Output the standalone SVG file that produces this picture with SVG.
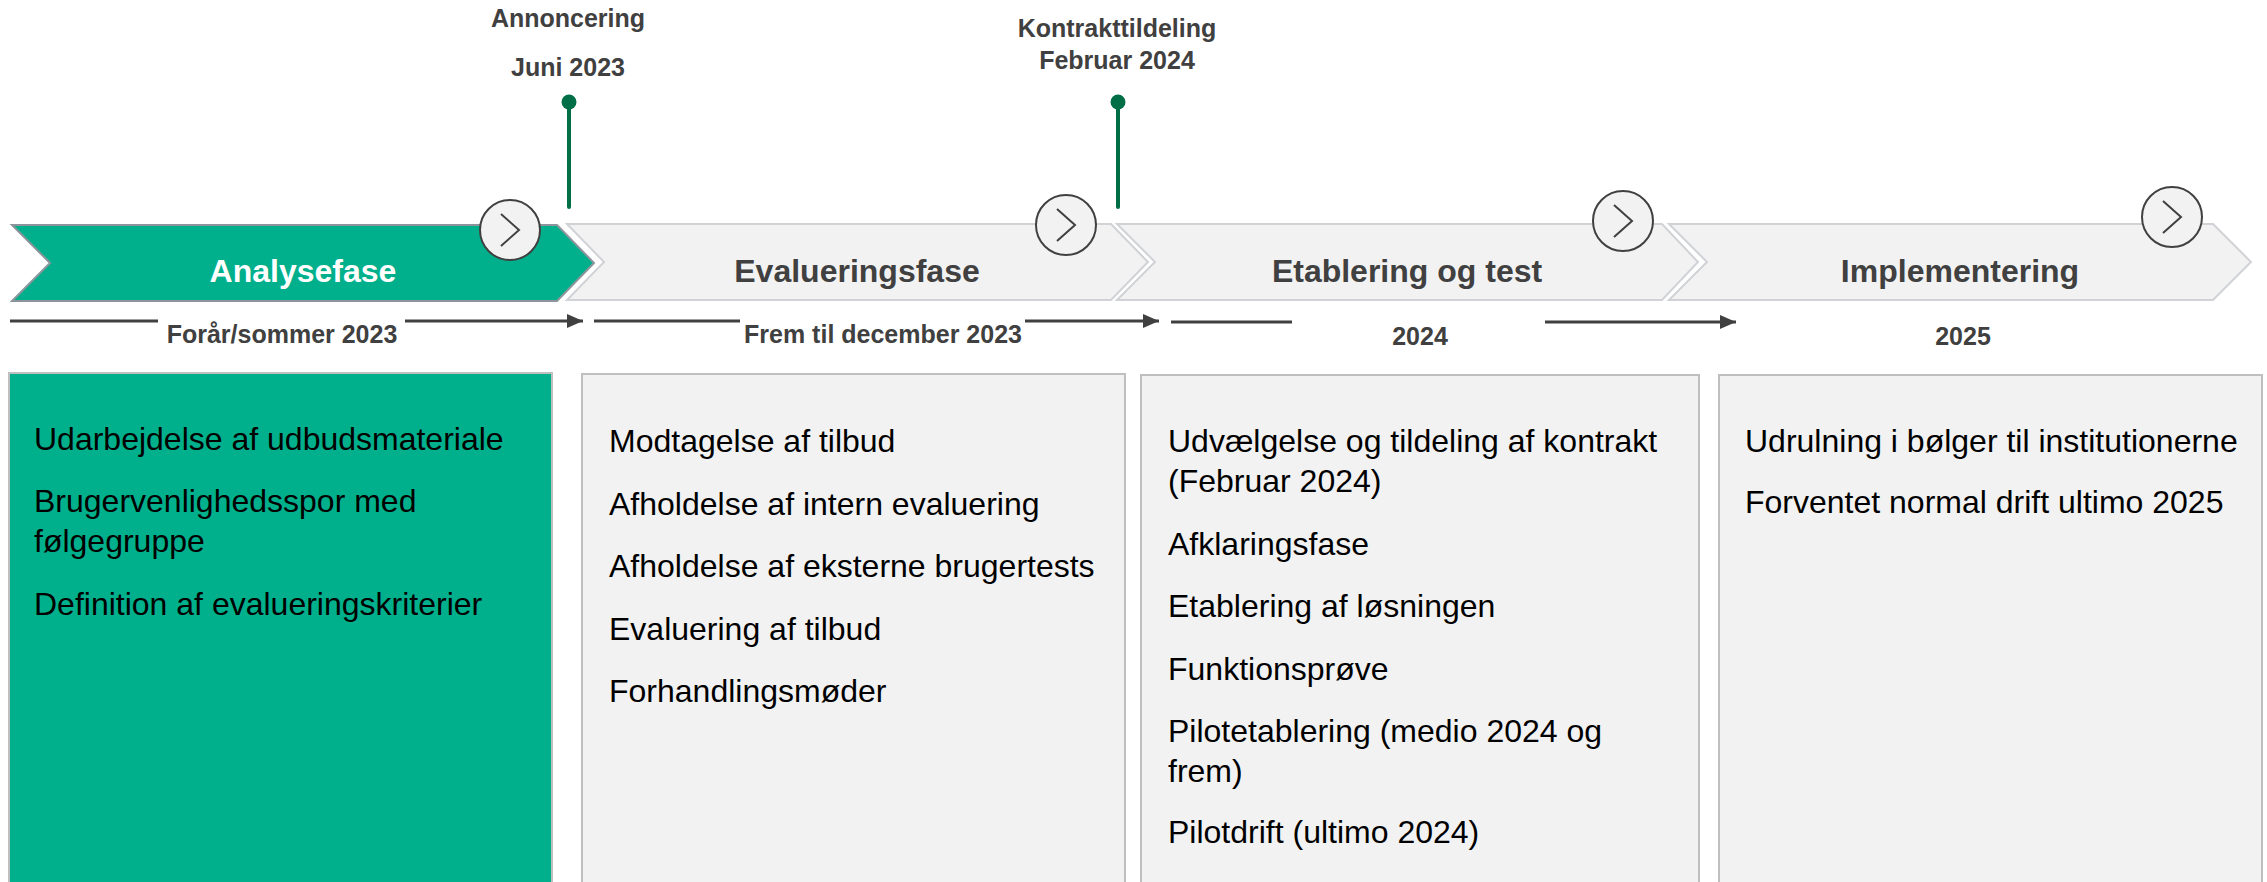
<svg xmlns="http://www.w3.org/2000/svg" width="2267" height="882" viewBox="0 0 2267 882">
  <defs>
    <style>
      .lbl { font-family: "Liberation Sans", Arial, sans-serif; font-weight: bold; fill: #404040; }
      .ms { font-size: 25px; text-anchor: middle; }
      .phase { font-size: 32px; text-anchor: middle; }
      .item { font-family: "Liberation Sans", Arial, sans-serif; font-size: 32px; fill: #000; }
      .chev-gray { fill: #F2F2F2; stroke: #D0D2D6; stroke-width: 2; }
      .chev-green { fill: #00B08C; stroke: #8E949C; stroke-width: 2; }
      .box-gray { fill: #F2F2F2; stroke: #BFBFBF; stroke-width: 2; }
      .box-green { fill: #00B08C; stroke: #BFBFBF; stroke-width: 2; }
      .btn { fill: #F2F2F2; stroke: #404040; stroke-width: 2; }
      .btn-arrow { fill: none; stroke: #404040; stroke-width: 2; }
      .pin { stroke: #006E46; stroke-width: 4; stroke-linecap: round; }
      .span { stroke: #404040; stroke-width: 3; fill: none; }
    </style>
    <marker id="head" viewBox="0 0 16 14" refX="16" refY="7" markerWidth="16" markerHeight="14" markerUnits="userSpaceOnUse" orient="auto">
      <path d="M0,0 L16,7 L0,14 Z" fill="#404040"/>
    </marker>
  </defs>

  <rect width="2267" height="882" fill="#FFFFFF"/>

  <!-- milestones -->
  <g id="milestone-annoncering">
    <text class="lbl ms" x="568" y="27">Annoncering</text>
    <text class="lbl ms" x="568" y="76">Juni 2023</text>
    <line class="pin" x1="569" y1="102" x2="569" y2="207"/>
    <circle cx="569" cy="102" r="7.5" fill="#006E46"/>
  </g>
  <g id="milestone-kontrakt">
    <text class="lbl ms" x="1117" y="37">Kontrakttildeling</text>
    <text class="lbl ms" x="1117" y="69">Februar 2024</text>
    <line class="pin" x1="1118" y1="102" x2="1118" y2="207"/>
    <circle cx="1118" cy="102" r="7.5" fill="#006E46"/>
  </g>

  <!-- phase chevrons -->
  <g id="phase-analyse">
    <path class="chev-green" d="M12,225 L557,225 L594,263 L557,301 L12,301 L50,263 Z"/>
    <text class="phase" x="303" y="282" font-family="Liberation Sans, Arial, sans-serif" font-weight="bold" fill="#FFFFFF">Analysefase</text>
    <circle class="btn" cx="510" cy="230" r="30"/>
    <path class="btn-arrow" d="M501,214 L519,230 L501,246"/>
  </g>
  <g id="phase-evaluering">
    <path class="chev-gray" d="M567,224 L1111,224 L1148,262 L1111,300 L567,300 L604,262 Z"/>
    <text class="lbl phase" x="857" y="282">Evalueringsfase</text>
    <circle class="btn" cx="1066" cy="225" r="30"/>
    <path class="btn-arrow" d="M1057,209 L1075,225 L1057,241"/>
  </g>
  <g id="phase-etablering">
    <path class="chev-gray" d="M1117,224 L1662,224 L1698,262 L1662,300 L1117,300 L1155,262 Z"/>
    <text class="lbl phase" x="1407" y="282">Etablering og test</text>
    <circle class="btn" cx="1623" cy="221" r="30"/>
    <path class="btn-arrow" d="M1614,205 L1632,221 L1614,237"/>
  </g>
  <g id="phase-implementering">
    <path class="chev-gray" d="M1669,224 L2213,224 L2251,262 L2213,300 L1669,300 L1707,262 Z"/>
    <text class="lbl phase" x="1960" y="282">Implementering</text>
    <circle class="btn" cx="2172" cy="217" r="30"/>
    <path class="btn-arrow" d="M2163,201 L2181,217 L2163,233"/>
  </g>

  <!-- period spans -->
  <g id="connectors">
    <line class="span" x1="10" y1="321" x2="158" y2="321"/>
    <line class="span" x1="405" y1="321" x2="583" y2="321" marker-end="url(#head)"/>
    <line class="span" x1="594" y1="321" x2="740" y2="321"/>
    <line class="span" x1="1025" y1="321" x2="1159" y2="321" marker-end="url(#head)"/>
    <line class="span" x1="1171" y1="322" x2="1292" y2="322"/>
    <line class="span" x1="1545" y1="322" x2="1736" y2="322" marker-end="url(#head)"/>
  </g>

  <g id="period-labels">
    <text class="lbl ms" x="282" y="343">Forår/sommer 2023</text>
    <text class="lbl ms" x="883" y="343">Frem til december 2023</text>
    <text class="lbl ms" x="1420" y="345">2024</text>
    <text class="lbl ms" x="1963" y="345">2025</text>
  </g>

  <!-- activity boxes -->
  <g id="box-analyse">
    <rect class="box-green" x="9" y="373" width="543" height="540"/>
    <text class="item" x="34" y="450">Udarbejdelse af udbudsmateriale</text>
    <text class="item" x="34" y="512">Brugervenlighedsspor med</text>
    <text class="item" x="34" y="552">følgegruppe</text>
    <text class="item" x="34" y="615">Definition af evalueringskriterier</text>
  </g>
  <g id="box-evaluering">
    <rect class="box-gray" x="582" y="374" width="543" height="540"/>
    <text class="item" x="609" y="452">Modtagelse af tilbud</text>
    <text class="item" x="609" y="515">Afholdelse af intern evaluering</text>
    <text class="item" x="609" y="577">Afholdelse af eksterne brugertests</text>
    <text class="item" x="609" y="640">Evaluering af tilbud</text>
    <text class="item" x="609" y="702">Forhandlingsmøder</text>
  </g>
  <g id="box-etablering">
    <rect class="box-gray" x="1141" y="375" width="558" height="540"/>
    <text class="item" x="1168" y="452">Udvælgelse og tildeling af kontrakt</text>
    <text class="item" x="1168" y="492">(Februar 2024)</text>
    <text class="item" x="1168" y="555">Afklaringsfase</text>
    <text class="item" x="1168" y="617">Etablering af løsningen</text>
    <text class="item" x="1168" y="680">Funktionsprøve</text>
    <text class="item" x="1168" y="742">Pilotetablering (medio 2024 og</text>
    <text class="item" x="1168" y="782">frem)</text>
    <text class="item" x="1168" y="843">Pilotdrift (ultimo 2024)</text>
  </g>
  <g id="box-implementering">
    <rect class="box-gray" x="1719" y="375" width="543" height="540"/>
    <text class="item" x="1745" y="452">Udrulning i bølger til institutionerne</text>
    <text class="item" x="1745" y="513">Forventet normal drift ultimo 2025</text>
  </g>
</svg>
